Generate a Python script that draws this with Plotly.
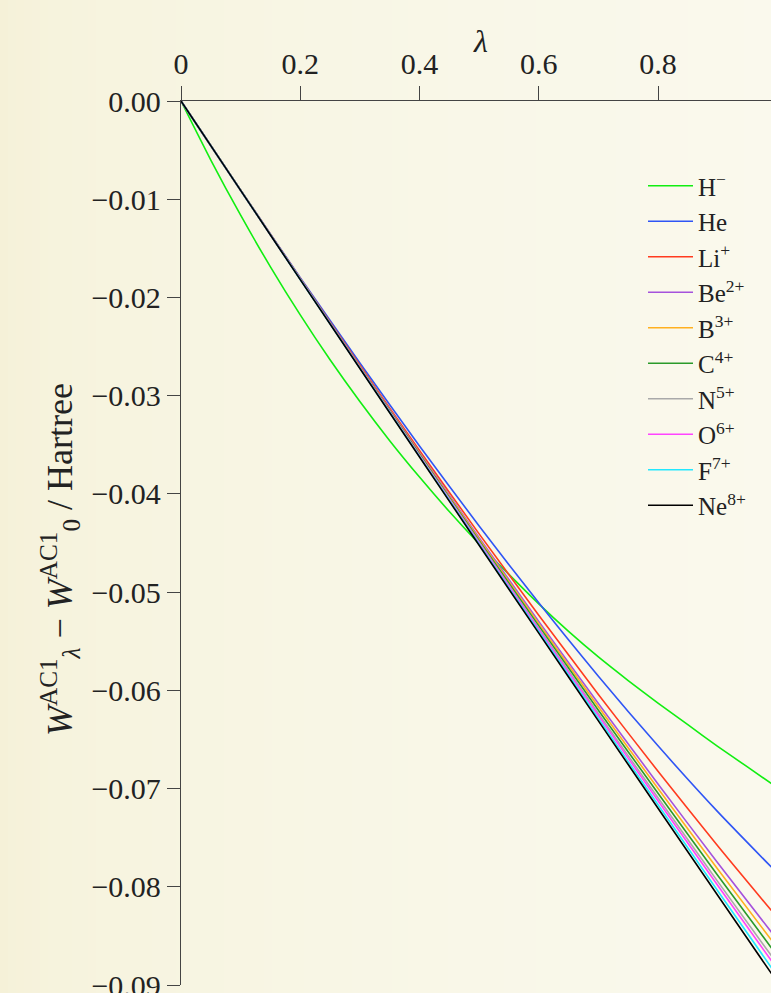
import plotly.graph_objects as go

# ---------------- data ----------------
lam = [0.0, 0.1, 0.2, 0.3, 0.4, 0.5, 0.6, 0.7, 0.8, 0.9, 1.0]
lam_fine = [0.0, 0.05, 0.1, 0.15, 0.2, 0.25, 0.3, 0.35, 0.4, 0.45, 0.5,
            0.55, 0.6, 0.65, 0.7, 0.75, 0.8, 0.85, 0.9, 0.95, 1.0]

w_hminus = [0, -0.00601, -0.01163, -0.01688, -0.02178, -0.02635, -0.03060, -0.03458,
            -0.03829, -0.0418, -0.0451, -0.0482, -0.0512, -0.0540, -0.0566, -0.0590,
            -0.0613, -0.0635, -0.0657, -0.0678, -0.0699]
w_he = [0, -0.00907, -0.01798, -0.02668, -0.03512, -0.04327, -0.05109, -0.05856, -0.06565, -0.07235, -0.07861]
w_li = [0, -0.00908, -0.01806, -0.02691, -0.03558, -0.04407, -0.05235, -0.06042, -0.06824, -0.07582, -0.08313]
w_be = [0, -0.00909, -0.01810, -0.02702, -0.03580, -0.04447, -0.05298, -0.06134, -0.06953, -0.07756, -0.08539]
w_b = [0, -0.00909, -0.01812, -0.02706, -0.03589, -0.04461, -0.05321, -0.06168, -0.07000, -0.07819, -0.08621]
w_c = [0, -0.00909, -0.01813, -0.02710, -0.03597, -0.04476, -0.05344, -0.06202, -0.07047, -0.07882, -0.08703]
w_n = [0, -0.00909, -0.01815, -0.02714, -0.03605, -0.04490, -0.05367, -0.06235, -0.07094, -0.07945, -0.08785]
w_o = [0, -0.00910, -0.01816, -0.02716, -0.03610, -0.04499, -0.05381, -0.06256, -0.07124, -0.07984, -0.08837]
w_f = [0, -0.00910, -0.01817, -0.02720, -0.03618, -0.04512, -0.05401, -0.06286, -0.07165, -0.08040, -0.08908]
w_ne = [0, -0.00910, -0.01818, -0.02723, -0.03624, -0.04523, -0.05418, -0.06311, -0.07200, -0.08087, -0.08970]

names = ["H<sup>−</sup>", "He", "Li<sup>+</sup>", "Be<sup>2+</sup>", "B<sup>3+</sup>",
         "C<sup>4+</sup>", "N<sup>5+</sup>", "O<sup>6+</sup>", "F<sup>7+</sup>", "Ne<sup>8+</sup>"]
colors = ["#11ee11", "#2f55f5", "#ff3b1f", "#a552dc", "#ffb020",
          "#2a9a2a", "#a9a9a9", "#ff44ff", "#22e8ff", "#000000"]
xs = [lam_fine] + [lam] * 9
ys = [w_hminus, w_he, w_li, w_be, w_b, w_c, w_n, w_o, w_f, w_ne]

y_ticks = [0.0, -0.01, -0.02, -0.03, -0.04, -0.05, -0.06, -0.07, -0.08, -0.09]
x_ticks = [0, 0.2, 0.4, 0.6, 0.8]

# ---------------- figure ----------------
FONT = "Liberation Serif"
W, H = 771, 993
ML, MR, MT, MB = 181, 0, 101, 8
pw, ph = W - ML - MR, H - MT - MB

fig = go.Figure()
for n, x, y, c in zip(names, xs, ys, colors):
    fig.add_trace(go.Scatter(x=x, y=y, mode="lines", name=n,
                             line=dict(color=c, width=1.6, shape="spline", smoothing=0.6)))

# soft horizontal background gradient
shapes = []
left = (245, 241, 216)
right = (250, 249, 237)
step = 8
for px in range(0, W, step):
    t = min(1.0, (px / W) ** 0.55)
    col = tuple(round(left[i] + (right[i] - left[i]) * t) for i in range(3))
    shapes.append(dict(type="rect", xref="paper", yref="paper",
                       x0=(px - ML) / pw, x1=(px + step + 1 - ML) / pw,
                       y0=-MB / ph - 0.01, y1=1 + MT / ph + 0.01,
                       fillcolor="rgb(%d,%d,%d)" % col, line=dict(width=0),
                       layer="below"))

fig.update_layout(
    width=W, height=H,
    margin=dict(l=ML, r=MR, t=MT, b=MB, autoexpand=False),
    paper_bgcolor="rgb(250,249,237)",
    plot_bgcolor="rgba(0,0,0,0)",
    shapes=shapes,
    font=dict(family=FONT, size=30, color="#222"),
    showlegend=True,
    legend=dict(x=(643 - ML) / pw, y=1 - (163 - MT) / ph, xanchor="left", yanchor="top",
                bgcolor="rgba(0,0,0,0)", font=dict(family=FONT, size=25, color="#222"),
                itemwidth=45, tracegroupgap=0),
    annotations=[
        dict(text="<i>λ</i>", xref="paper", yref="paper",
             x=(480 - ML) / pw, y=1 + (101 - 41) / ph,
             xanchor="center", yanchor="middle", showarrow=False,
             font=dict(family=FONT, size=32, color="#222")),
        dict(text="<i>W</i><sup>AC1</sup><sub><i>λ</i></sub> − <i>W</i><sup>AC1</sup><sub>0</sub> / Hartree",
             xref="paper", yref="paper", x=(60 - ML) / pw, y=1 - (560 - MT) / ph,
             xanchor="center", yanchor="middle", textangle=-90, showarrow=False,
             font=dict(family=FONT, size=36, color="#222")),
    ],
    xaxis=dict(range=[0, (W - ML) / 596.25], side="top", showgrid=False, zeroline=False,
               showline=True, linecolor="#444", linewidth=1.3, automargin=False,
               ticks="outside", ticklen=14, tickcolor="#444", tickwidth=1.2,
               tickvals=x_ticks, ticktext=["0", "0.2", "0.4", "0.6", "0.8"],
               tickfont=dict(size=30)),
    yaxis=dict(range=[-0.09, 0], showgrid=False, zeroline=False,
               showline=True, linecolor="#444", linewidth=1.3, automargin=False,
               ticks="outside", ticklen=13, tickcolor="#444", tickwidth=1.2,
               tickvals=y_ticks, tickformat=".2f", ticklabeloverflow="allow",
               tickfont=dict(size=30)),
)

fig.write_html("out.html", config={"displayModeBar": False},
               post_script="document.body.style.margin='0';document.body.style.padding='0';"
                           "document.body.style.overflow='hidden';")
